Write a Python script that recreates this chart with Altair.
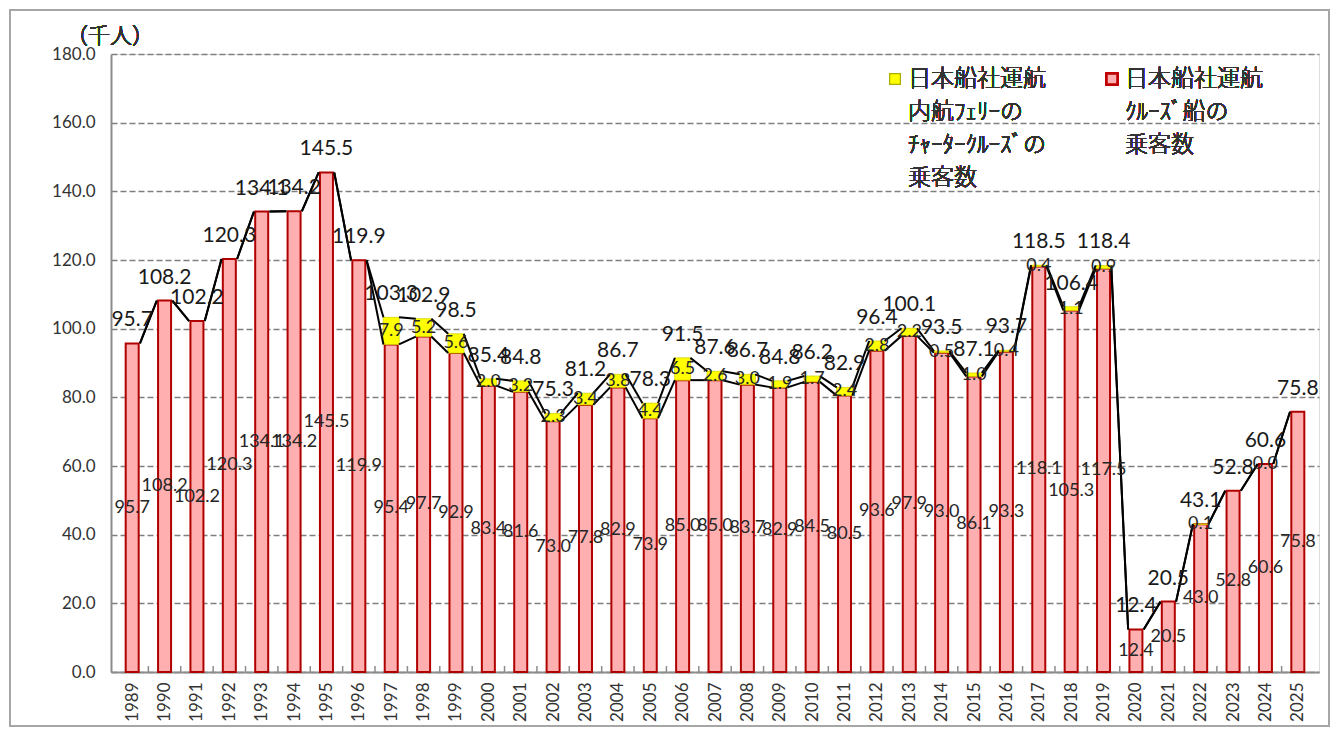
import altair as alt
import pandas as pd

years = list(range(1989, 2026))
cruise = [95.7, 108.2, 102.2, 120.3, 134.1, 134.2, 145.5, 119.9,
          95.4, 97.7, 92.9, 83.4, 81.6, 73.0, 77.8, 82.9, 73.9, 85.0, 85.0, 83.7,
          82.9, 84.5, 80.5, 93.6, 97.9, 93.0, 86.1, 93.3, 118.1, 105.3, 117.5,
          12.4, 20.5, 43.0, 52.8, 60.6, 75.8]
charter = [None] * 8 + [7.9, 5.2, 5.6, 2.0, 3.2, 2.3, 3.4, 3.8, 4.4, 6.5, 2.6, 3.0,
                        1.9, 1.7, 2.4, 2.8, 2.2, 0.5, 1.0, 0.4, 0.4, 1.1, 0.9] + \
          [None, None, 0.1, None, 0.0, None]
totals = [95.7, 108.2, 102.2, 120.3, 134.1, 134.2, 145.5, 119.9,
          103.3, 102.9, 98.5, 85.4, 84.8, 75.3, 81.2, 86.7, 78.3, 91.5, 87.6, 86.7,
          84.8, 86.2, 82.9, 96.4, 100.1, 93.5, 87.1, 93.7, 118.5, 106.4, 118.4,
          12.4, 20.5, 43.1, 52.8, 60.6, 75.8]
y_ticks = [0, 20, 40, 60, 80, 100, 120, 140, 160, 180]

unit_label = "（千人）"
legend_yellow = ["日本船社運航", "内航ﾌｪﾘｰの", "ﾁｬｰﾀｰｸﾙｰｽﾞの", "乗客数"]
legend_red = ["日本船社運航", "ｸﾙｰｽﾞ船の", "乗客数"]

W, H = 1208, 618
NUM_FONT = "Lato"
JP_FONT = "Noto Sans CJK JP"

df = pd.DataFrame({"year": years, "cruise": cruise, "charter": charter, "total": totals})
df["zero"] = 0.0
df["cruise_mid"] = df["cruise"] / 2
df["charter_top"] = df["cruise"] + df["charter"].fillna(0)
df["charter_mid"] = df["cruise"] + df["charter"].fillna(0) / 2
ydf = df.dropna(subset=["charter"]).copy()
ydf = ydf[ydf["charter"] > 0]
ylab = df.dropna(subset=["charter"]).copy()

hw = 0.24
seg_rows = []
for i in range(len(years) - 1):
    for name, arr in (("cruise", cruise), ("total", totals)):
        seg_rows.append({"year": years[i] + hw, "x2": years[i + 1] - hw,
                         "zero": arr[i], "y2": arr[i + 1], "s": name})
seg = pd.DataFrame(seg_rows)
bounds = pd.DataFrame({"year": [y + 0.5 for y in years[:-1]]})

xs = alt.Scale(domain=[years[0] - 0.5, years[-1] + 0.5], nice=False, zero=False)
ys = alt.Scale(domain=[0, 180], nice=False)

x_axis = alt.Axis(values=years, format="d", labelAngle=-90, title=None,
                  ticks=False, grid=False, domainColor="#8C8C8C",
                  domainWidth=2, labelFont=NUM_FONT, labelFontSize=17,
                  labelColor="#333333", labelPadding=10,
                  labelOverlap=False, labelFlush=False, labelBound=False)
y_axis = alt.Axis(values=y_ticks, format=".1f", title=None, ticks=False,
                  tickSize=0, grid=True, gridColor="#7F7F7F",
                  gridDash=[6, 3], gridWidth=1.5, domainColor="#8C8C8C",
                  domainWidth=2, labelFont=NUM_FONT, labelFontSize=17,
                  labelColor="#333333", labelPadding=16, labelOverlap=False)


def X(field):
    return alt.X(field, scale=xs, axis=x_axis, title=None)


def Y(field):
    return alt.Y(field, scale=ys, axis=y_axis, title=None)


base = alt.Chart(df)

red = base.mark_bar(width=13, fill="#FFAFAF", stroke="#B00000", strokeWidth=2).encode(
    x=X("year:Q"), y=Y("zero:Q"), y2="cruise:Q")

yellow = alt.Chart(ydf).mark_bar(width=16, fill="#FFFF00", stroke="#D4D400",
                                 strokeWidth=0.8).encode(
    x=X("year:Q"), y=Y("cruise:Q"), y2="charter_top:Q")

ticks = alt.Chart(bounds).mark_rule(color="#8C8C8C", strokeWidth=1.5).encode(
    x=X("year:Q"), y=alt.value(H), y2=alt.value(H - 6))

lines = alt.Chart(seg).mark_rule(color="black", strokeWidth=2).encode(
    x=X("year:Q"), x2="x2:Q", y=Y("zero:Q"), y2="y2:Q")

red_lab = base.mark_text(font=NUM_FONT, fontSize=18, color="#262626",
                         baseline="middle").encode(
    x=X("year:Q"), y=Y("cruise_mid:Q"),
    text=alt.Text("cruise:Q", format=".1f"))

yel_lab = alt.Chart(ylab).mark_text(font=NUM_FONT, fontSize=18, color="#262626",
                                    baseline="middle").encode(
    x=X("year:Q"), y=Y("charter_mid:Q"),
    text=alt.Text("charter:Q", format=".1f"))

tot_lab = base.mark_text(font=NUM_FONT, fontSize=21, color="#1A1A1A",
                         baseline="middle", dy=-23).encode(
    x=X("year:Q"), y=Y("total:Q"),
    text=alt.Text("total:Q", format=".1f"))

unit = alt.Chart(df).mark_text(font=JP_FONT, fontSize=22, fontWeight=300,
                               color="#333333", align="center",
                               baseline="middle").encode(
    x=alt.value(-1), y=alt.value(-18), text=alt.value(unit_label))

leg_sq_y = alt.Chart(df).mark_square(size=110, fill="#FFFF00", stroke="#A6A600",
                                     strokeWidth=1, opacity=1).encode(
    x=alt.value(784), y=alt.value(25))
leg_tx_y = alt.Chart(df).mark_text(font=JP_FONT, fontSize=23, fontWeight=300,
                                   color="#333333", align="left", baseline="middle",
                                   lineHeight=33).encode(
    x=alt.value(797), y=alt.value(25), text=alt.value(legend_yellow))
leg_sq_r = alt.Chart(df).mark_square(size=110, fill="#FFAFAF", stroke="#C00000",
                                     strokeWidth=2, opacity=1).encode(
    x=alt.value(1001), y=alt.value(25))
leg_tx_r = alt.Chart(df).mark_text(font=JP_FONT, fontSize=23, fontWeight=300,
                                   color="#333333", align="left", baseline="middle",
                                   lineHeight=33).encode(
    x=alt.value(1014), y=alt.value(25), text=alt.value(legend_red))

frame = alt.Chart(df).mark_rect(fill=None, stroke="#A6A6A6", strokeWidth=2).encode(
    x=alt.value(-101), x2=alt.value(W + 10), y=alt.value(-44), y2=alt.value(H + 54))

chart = alt.layer(
    red, yellow, ticks, lines, red_lab, yel_lab, tot_lab, unit,
    leg_sq_y, leg_tx_y, leg_sq_r, leg_tx_r, frame
).properties(
    width=W, height=H,
    autosize=alt.AutoSizeParams(type="none"),
    padding={"left": 103, "top": 46, "right": 12, "bottom": 56},
).configure_view(stroke=None).configure(background="white").configure_axisX(
    labelOverlap=False
)

chart.save("out.html", embed_options={"renderer": "svg", "actions": False})
